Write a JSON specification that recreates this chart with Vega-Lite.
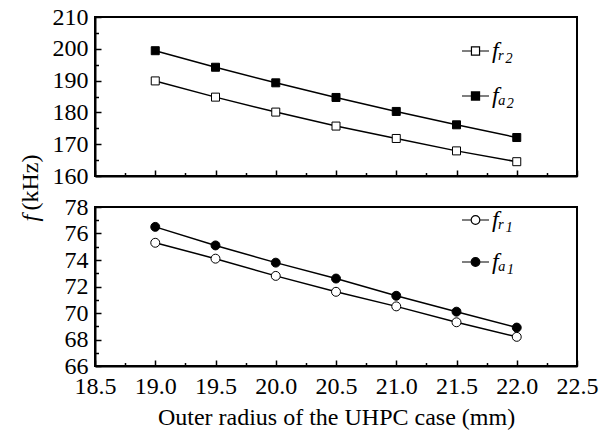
{
  "$schema": "https://vega.github.io/schema/vega-lite/v6.json",
  "background": "white",
  "padding": {"left": 17, "top": 4, "right": 10, "bottom": 3},
  "config": {
    "font": "Liberation Serif",
    "view": {"stroke": "black", "strokeWidth": 2},
    "axis": {
      "grid": false,
      "domainColor": "black",
      "tickColor": "black",
      "labelColor": "black",
      "titleColor": "black",
      "labelFont": "Liberation Serif",
      "titleFont": "Liberation Serif",
      "labelFontSize": 24,
      "titleFontSize": 24,
      "titleFontWeight": "normal",
      "labelOverlap": false,
      "labelFlush": false,
      "labelBound": false,
      "domainWidth": 2,
      "tickWidth": 1.5
    }
  },
  "datasets": {
    "top": [
      {"r": 19.0, "f": 189.9, "s": "fr2"},
      {"r": 19.5, "f": 184.8, "s": "fr2"},
      {"r": 20.0, "f": 180.1, "s": "fr2"},
      {"r": 20.5, "f": 175.7, "s": "fr2"},
      {"r": 21.0, "f": 171.8, "s": "fr2"},
      {"r": 21.5, "f": 167.9, "s": "fr2"},
      {"r": 22.0, "f": 164.5, "s": "fr2"},
      {"r": 19.0, "f": 199.4, "s": "fa2"},
      {"r": 19.5, "f": 194.2, "s": "fa2"},
      {"r": 20.0, "f": 189.3, "s": "fa2"},
      {"r": 20.5, "f": 184.7, "s": "fa2"},
      {"r": 21.0, "f": 180.3, "s": "fa2"},
      {"r": 21.5, "f": 176.1, "s": "fa2"},
      {"r": 22.0, "f": 172.1, "s": "fa2"}
    ],
    "bottom": [
      {"r": 19.0, "f": 75.3, "t": "fr1"},
      {"r": 19.5, "f": 74.1, "t": "fr1"},
      {"r": 20.0, "f": 72.8, "t": "fr1"},
      {"r": 20.5, "f": 71.6, "t": "fr1"},
      {"r": 21.0, "f": 70.5, "t": "fr1"},
      {"r": 21.5, "f": 69.3, "t": "fr1"},
      {"r": 22.0, "f": 68.2, "t": "fr1"},
      {"r": 19.0, "f": 76.5, "t": "fa1"},
      {"r": 19.5, "f": 75.1, "t": "fa1"},
      {"r": 20.0, "f": 73.8, "t": "fa1"},
      {"r": 20.5, "f": 72.6, "t": "fa1"},
      {"r": 21.0, "f": 71.3, "t": "fa1"},
      {"r": 21.5, "f": 70.1, "t": "fa1"},
      {"r": 22.0, "f": 68.9, "t": "fa1"}
    ]
  },
  "bounds": "flush",
  "spacing": 31,
  "resolve": {"scale": {"fill": "independent"}, "legend": {"fill": "independent"}},
  "vconcat": [
    {
      "width": 482,
      "height": 159,
      "data": {"name": "top"},
      "layer": [
        {
          "mark": {"type": "line", "color": "black", "strokeWidth": 1.5},
          "encoding": {
            "x": {"field": "r", "type": "quantitative",
              "scale": {"domain": [18.5, 22.5], "nice": false, "zero": false},
              "axis": {"values": [18.5, 19, 19.5, 20, 20.5, 21, 21.5, 22, 22.5], "labels": false, "tickSize": -6, "title": null}},
            "y": {"field": "f", "type": "quantitative",
              "scale": {"domain": [160, 210], "nice": false, "zero": false},
              "axis": {"values": [160, 170, 180, 190, 200, 210], "tickSize": -6, "labelPadding": 13,
                "title": "(kHz)", "titleAngle": -90, "titleAlign": "left", "titleBaseline": "alphabetic", "titleX": -58, "titleY": 193}},
            "detail": {"field": "s", "type": "nominal"}
          }
        },
        {
          "mark": {"type": "point", "shape": "square", "filled": true, "stroke": "black", "strokeWidth": 1, "size": 64, "opacity": 1},
          "encoding": {
            "x": {"field": "r", "type": "quantitative",
              "axis": {"values": [18.75, 19.25, 19.75, 20.25, 20.75, 21.25, 21.75, 22.25], "labels": false, "domain": false, "tickSize": -3.5, "title": null, "orient": "bottom"}},
            "y": {"field": "f", "type": "quantitative",
              "axis": {"values": [165, 175, 185, 195, 205], "labels": false, "domain": false, "tickSize": -3.5, "title": null, "orient": "left"}},
            "fill": {"field": "s", "type": "nominal",
              "scale": {"domain": ["fr2", "fa2"], "range": ["white", "black"]},
              "legend": {
                "orient": "none", "legendX": 366, "legendY": 19.5, "title": null, "padding": 0,
                "symbolType": "M-1,0H-0.3M0.3,0H1M-0.3,-0.3H0.3V0.3H-0.3Z",
                "symbolSize": 729, "symbolStrokeColor": "black", "symbolStrokeWidth": 1.2, "symbolOpacity": 1,
                "labelFont": "Liberation Serif", "labelFontSize": 24, "labelFontStyle": "italic", "labelColor": "black",
                "labelOffset": 2, "rowPadding": 18,
                "labelExpr": "datum.value == 'fr2' ? 'fᵣ₂' : 'fₐ₂'"
              }}
          }
        }
      ],
      "resolve": {"axis": {"x": "independent", "y": "independent"}}
    },
    {
      "width": 482,
      "height": 159,
      "data": {"name": "bottom"},
      "layer": [
        {
          "mark": {"type": "line", "color": "black", "strokeWidth": 1.5},
          "encoding": {
            "x": {"field": "r", "type": "quantitative",
              "scale": {"domain": [18.5, 22.5], "nice": false, "zero": false},
              "axis": {"values": [18.5, 19, 19.5, 20, 20.5, 21, 21.5, 22, 22.5], "format": ".1f", "tickSize": -6, "labelPadding": 14,
                "title": "Outer radius of the UHPC case (mm)", "titlePadding": 7}},
            "y": {"field": "f", "type": "quantitative",
              "scale": {"domain": [66, 78], "nice": false, "zero": false},
              "axis": {"values": [66, 68, 70, 72, 74, 76, 78], "tickSize": -6, "labelPadding": 13,
                "title": "f", "titleFontStyle": "italic", "titleAngle": -90, "titleAlign": "left", "titleBaseline": "alphabetic", "titleX": -58, "titleY": 14}},
            "detail": {"field": "t", "type": "nominal"}
          }
        },
        {
          "mark": {"type": "point", "shape": "circle", "filled": true, "stroke": "black", "strokeWidth": 1, "size": 80, "opacity": 1},
          "encoding": {
            "x": {"field": "r", "type": "quantitative",
              "axis": {"values": [18.75, 19.25, 19.75, 20.25, 20.75, 21.25, 21.75, 22.25], "labels": false, "domain": false, "tickSize": -3.5, "title": null, "orient": "bottom"}},
            "y": {"field": "f", "type": "quantitative",
              "axis": {"values": [67, 69, 71, 73, 75, 77], "labels": false, "domain": false, "tickSize": -3.5, "title": null, "orient": "left"}},
            "fill": {"field": "t", "type": "nominal",
              "scale": {"domain": ["fr1", "fa1"], "range": ["white", "black"]},
              "legend": {
                "orient": "none", "legendX": 366, "legendY": -1.5, "title": null, "padding": 0,
                "symbolType": "M-1,0H-0.32M0.32,0H1M0.32,0A0.32,0.32 0 1 1 -0.32,0A0.32,0.32 0 1 1 0.32,0Z",
                "symbolSize": 729, "symbolStrokeColor": "black", "symbolStrokeWidth": 1.2, "symbolOpacity": 1,
                "labelFont": "Liberation Serif", "labelFontSize": 24, "labelFontStyle": "italic", "labelColor": "black",
                "labelOffset": 2, "rowPadding": 15,
                "labelExpr": "datum.value == 'fr1' ? 'fᵣ₁' : 'fₐ₁'"
              }}
          }
        }
      ],
      "resolve": {"axis": {"x": "independent", "y": "independent"}}
    }
  ]
}
